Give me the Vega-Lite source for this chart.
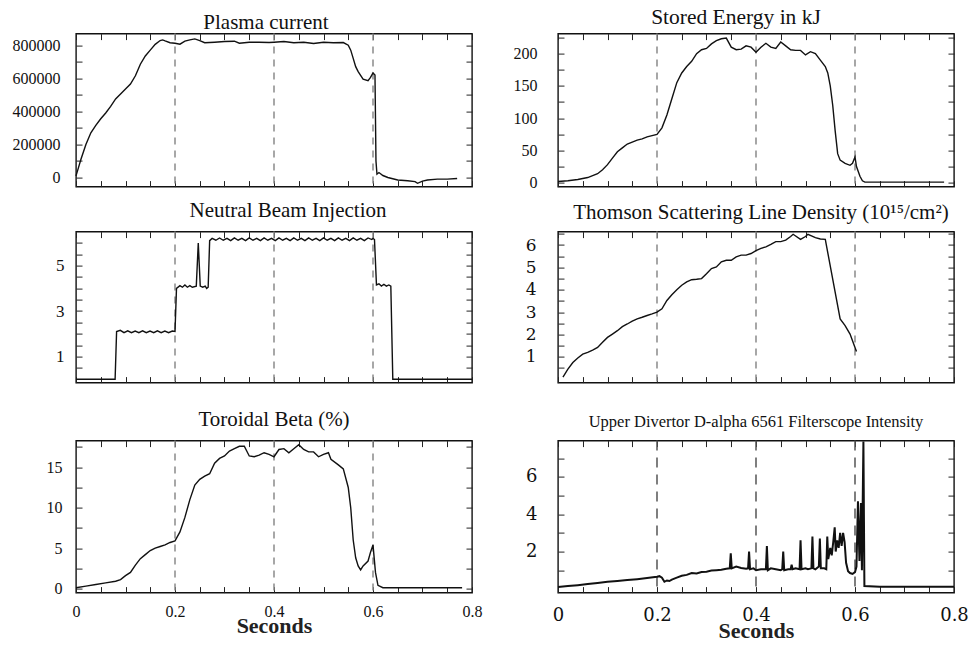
{
"$schema":"https://vega.github.io/schema/vega-lite/v6.json",
"background":"white",
"padding":{"left":11,"top":5.6,"right":10,"bottom":0},
"datasets":{
"dl":[{"t":0.2},{"t":0.4},{"t":0.6}],
"pc":[{"t":0,"v":10000},{"t":0.005,"v":60000},{"t":0.01,"v":110000},{"t":0.02,"v":200000},{"t":0.03,"v":270000},{"t":0.04,"v":315000},{"t":0.05,"v":355000},{"t":0.06,"v":390000},{"t":0.07,"v":430000},{"t":0.08,"v":475000},{"t":0.09,"v":505000},{"t":0.1,"v":535000},{"t":0.11,"v":565000},{"t":0.12,"v":615000},{"t":0.13,"v":685000},{"t":0.14,"v":735000},{"t":0.15,"v":770000},{"t":0.16,"v":805000},{"t":0.17,"v":828000},{"t":0.175,"v":832000},{"t":0.18,"v":826000},{"t":0.19,"v":815000},{"t":0.2,"v":812000},{"t":0.21,"v":806000},{"t":0.22,"v":825000},{"t":0.23,"v":832000},{"t":0.24,"v":838000},{"t":0.25,"v":828000},{"t":0.26,"v":815000},{"t":0.28,"v":818000},{"t":0.3,"v":822000},{"t":0.32,"v":824000},{"t":0.33,"v":812000},{"t":0.35,"v":818000},{"t":0.37,"v":818000},{"t":0.39,"v":816000},{"t":0.4,"v":818000},{"t":0.42,"v":822000},{"t":0.44,"v":815000},{"t":0.46,"v":818000},{"t":0.48,"v":810000},{"t":0.5,"v":818000},{"t":0.52,"v":815000},{"t":0.54,"v":816000},{"t":0.55,"v":800000},{"t":0.555,"v":770000},{"t":0.56,"v":720000},{"t":0.565,"v":670000},{"t":0.57,"v":640000},{"t":0.58,"v":595000},{"t":0.59,"v":585000},{"t":0.595,"v":605000},{"t":0.6,"v":632000},{"t":0.604,"v":620000},{"t":0.606,"v":100000},{"t":0.608,"v":20000},{"t":0.612,"v":30000},{"t":0.62,"v":12000},{"t":0.63,"v":0},{"t":0.65,"v":-15000},{"t":0.67,"v":-20000},{"t":0.685,"v":-25000},{"t":0.69,"v":-35000},{"t":0.7,"v":-22000},{"t":0.71,"v":-15000},{"t":0.73,"v":-10000},{"t":0.75,"v":-10000},{"t":0.77,"v":-6000}],
"se":[{"t":0,"v":2},{"t":0.02,"v":3},{"t":0.04,"v":5},{"t":0.06,"v":8},{"t":0.08,"v":14},{"t":0.09,"v":20},{"t":0.1,"v":28},{"t":0.11,"v":38},{"t":0.12,"v":48},{"t":0.13,"v":54},{"t":0.14,"v":60},{"t":0.15,"v":63},{"t":0.16,"v":66},{"t":0.17,"v":68},{"t":0.18,"v":71},{"t":0.19,"v":73},{"t":0.2,"v":75},{"t":0.21,"v":85},{"t":0.22,"v":105},{"t":0.23,"v":130},{"t":0.24,"v":155},{"t":0.25,"v":170},{"t":0.26,"v":180},{"t":0.27,"v":188},{"t":0.28,"v":200},{"t":0.29,"v":206},{"t":0.3,"v":208},{"t":0.31,"v":215},{"t":0.32,"v":220},{"t":0.33,"v":223},{"t":0.34,"v":224},{"t":0.35,"v":210},{"t":0.36,"v":206},{"t":0.37,"v":207},{"t":0.38,"v":212},{"t":0.39,"v":210},{"t":0.4,"v":202},{"t":0.41,"v":210},{"t":0.42,"v":216},{"t":0.43,"v":210},{"t":0.44,"v":208},{"t":0.45,"v":218},{"t":0.46,"v":212},{"t":0.47,"v":206},{"t":0.48,"v":205},{"t":0.49,"v":205},{"t":0.5,"v":198},{"t":0.51,"v":203},{"t":0.52,"v":200},{"t":0.53,"v":190},{"t":0.54,"v":180},{"t":0.545,"v":170},{"t":0.55,"v":150},{"t":0.555,"v":120},{"t":0.56,"v":80},{"t":0.565,"v":45},{"t":0.57,"v":35},{"t":0.58,"v":30},{"t":0.59,"v":27},{"t":0.595,"v":30},{"t":0.6,"v":40},{"t":0.603,"v":25},{"t":0.61,"v":10},{"t":0.615,"v":3},{"t":0.62,"v":1},{"t":0.78,"v":1}],
"nbi":[{"t":0,"v":0},{"t":0.079,"v":0},{"t":0.082,"v":2.1},{"t":0.0895,"v":2.15},{"t":0.097,"v":2.05},{"t":0.1045,"v":2.13},{"t":0.112,"v":2.05},{"t":0.1195,"v":2.12},{"t":0.127,"v":2.05},{"t":0.1345,"v":2.13},{"t":0.142,"v":2.05},{"t":0.1495,"v":2.12},{"t":0.157,"v":2.05},{"t":0.1645,"v":2.13},{"t":0.172,"v":2.05},{"t":0.1795,"v":2.12},{"t":0.187,"v":2.05},{"t":0.1945,"v":2.12},{"t":0.2,"v":2.1},{"t":0.203,"v":4.0},{"t":0.21,"v":4.12},{"t":0.215,"v":4.05},{"t":0.22,"v":4.15},{"t":0.225,"v":4.05},{"t":0.23,"v":4.12},{"t":0.235,"v":4.05},{"t":0.243,"v":4.1},{"t":0.247,"v":6.0},{"t":0.251,"v":4.1},{"t":0.256,"v":4.05},{"t":0.261,"v":4.1},{"t":0.264,"v":4.0},{"t":0.267,"v":4.05},{"t":0.27,"v":6.1},{"t":0.275,"v":6.2},{"t":0.2825,"v":6.12},{"t":0.29,"v":6.22},{"t":0.2975,"v":6.12},{"t":0.305,"v":6.2},{"t":0.3125,"v":6.1},{"t":0.32,"v":6.22},{"t":0.3275,"v":6.12},{"t":0.335,"v":6.2},{"t":0.3425,"v":6.1},{"t":0.35,"v":6.22},{"t":0.3575,"v":6.12},{"t":0.365,"v":6.2},{"t":0.3725,"v":6.1},{"t":0.38,"v":6.22},{"t":0.3875,"v":6.12},{"t":0.395,"v":6.2},{"t":0.4025,"v":6.1},{"t":0.41,"v":6.22},{"t":0.4175,"v":6.12},{"t":0.425,"v":6.2},{"t":0.4325,"v":6.1},{"t":0.44,"v":6.22},{"t":0.4475,"v":6.12},{"t":0.455,"v":6.2},{"t":0.4625,"v":6.1},{"t":0.47,"v":6.22},{"t":0.4775,"v":6.12},{"t":0.485,"v":6.2},{"t":0.4925,"v":6.1},{"t":0.5,"v":6.22},{"t":0.5075,"v":6.12},{"t":0.515,"v":6.2},{"t":0.5225,"v":6.1},{"t":0.53,"v":6.22},{"t":0.5375,"v":6.12},{"t":0.545,"v":6.2},{"t":0.5525,"v":6.1},{"t":0.56,"v":6.22},{"t":0.5675,"v":6.12},{"t":0.575,"v":6.2},{"t":0.5825,"v":6.1},{"t":0.59,"v":6.22},{"t":0.5975,"v":6.15},{"t":0.6,"v":6.2},{"t":0.603,"v":6.15},{"t":0.607,"v":4.15},{"t":0.612,"v":4.2},{"t":0.617,"v":4.1},{"t":0.622,"v":4.18},{"t":0.627,"v":4.1},{"t":0.632,"v":4.15},{"t":0.636,"v":4.1},{"t":0.64,"v":0},{"t":0.8,"v":0}],
"ts":[{"t":0.01,"v":0.1},{"t":0.02,"v":0.45},{"t":0.03,"v":0.75},{"t":0.04,"v":0.95},{"t":0.05,"v":1.12},{"t":0.06,"v":1.2},{"t":0.07,"v":1.3},{"t":0.08,"v":1.42},{"t":0.09,"v":1.65},{"t":0.1,"v":1.87},{"t":0.11,"v":2.02},{"t":0.12,"v":2.17},{"t":0.13,"v":2.35},{"t":0.14,"v":2.47},{"t":0.15,"v":2.6},{"t":0.16,"v":2.7},{"t":0.17,"v":2.77},{"t":0.18,"v":2.85},{"t":0.19,"v":2.92},{"t":0.2,"v":3.0},{"t":0.21,"v":3.15},{"t":0.22,"v":3.52},{"t":0.23,"v":3.78},{"t":0.24,"v":4.0},{"t":0.25,"v":4.2},{"t":0.26,"v":4.35},{"t":0.27,"v":4.45},{"t":0.28,"v":4.47},{"t":0.29,"v":4.5},{"t":0.3,"v":4.72},{"t":0.31,"v":4.95},{"t":0.32,"v":5.02},{"t":0.33,"v":5.25},{"t":0.34,"v":5.32},{"t":0.35,"v":5.32},{"t":0.36,"v":5.47},{"t":0.37,"v":5.55},{"t":0.38,"v":5.55},{"t":0.39,"v":5.62},{"t":0.4,"v":5.75},{"t":0.41,"v":5.85},{"t":0.42,"v":5.92},{"t":0.43,"v":6.03},{"t":0.44,"v":6.15},{"t":0.45,"v":6.15},{"t":0.46,"v":6.22},{"t":0.47,"v":6.38},{"t":0.475,"v":6.48},{"t":0.49,"v":6.25},{"t":0.5,"v":6.38},{"t":0.505,"v":6.48},{"t":0.52,"v":6.33},{"t":0.53,"v":6.27},{"t":0.54,"v":6.25},{"t":0.57,"v":2.7},{"t":0.58,"v":2.4},{"t":0.59,"v":2.02},{"t":0.6,"v":1.42},{"t":0.603,"v":1.24}],
"tb":[{"t":0,"v":0.1},{"t":0.02,"v":0.3},{"t":0.04,"v":0.5},{"t":0.06,"v":0.7},{"t":0.08,"v":0.9},{"t":0.09,"v":1.1},{"t":0.1,"v":1.6},{"t":0.11,"v":2.0},{"t":0.12,"v":2.9},{"t":0.13,"v":3.7},{"t":0.14,"v":4.2},{"t":0.15,"v":4.7},{"t":0.16,"v":5.0},{"t":0.17,"v":5.2},{"t":0.18,"v":5.4},{"t":0.19,"v":5.7},{"t":0.2,"v":5.9},{"t":0.21,"v":7.0},{"t":0.22,"v":8.8},{"t":0.23,"v":11.0},{"t":0.24,"v":12.8},{"t":0.25,"v":13.5},{"t":0.26,"v":13.9},{"t":0.27,"v":14.2},{"t":0.28,"v":15.5},{"t":0.29,"v":16.1},{"t":0.3,"v":16.4},{"t":0.31,"v":17.0},{"t":0.32,"v":17.3},{"t":0.33,"v":17.6},{"t":0.34,"v":17.6},{"t":0.35,"v":16.4},{"t":0.36,"v":16.3},{"t":0.37,"v":16.5},{"t":0.38,"v":16.8},{"t":0.39,"v":16.6},{"t":0.4,"v":16.3},{"t":0.41,"v":17.2},{"t":0.42,"v":17.3},{"t":0.43,"v":16.8},{"t":0.44,"v":17.3},{"t":0.45,"v":17.8},{"t":0.46,"v":17.2},{"t":0.47,"v":16.9},{"t":0.48,"v":16.9},{"t":0.49,"v":16.3},{"t":0.5,"v":16.6},{"t":0.51,"v":16.8},{"t":0.515,"v":16.0},{"t":0.53,"v":15.3},{"t":0.54,"v":14.8},{"t":0.55,"v":12.5},{"t":0.555,"v":10.0},{"t":0.56,"v":6.0},{"t":0.565,"v":3.8},{"t":0.57,"v":2.8},{"t":0.575,"v":2.3},{"t":0.58,"v":2.8},{"t":0.59,"v":3.4},{"t":0.595,"v":4.5},{"t":0.6,"v":5.4},{"t":0.605,"v":2.0},{"t":0.61,"v":0.4},{"t":0.62,"v":0.1},{"t":0.78,"v":0.1}],
"da":[{"t":0,"v":0.1},{"t":0.02,"v":0.15},{"t":0.04,"v":0.2},{"t":0.06,"v":0.26},{"t":0.08,"v":0.32},{"t":0.1,"v":0.38},{"t":0.12,"v":0.42},{"t":0.14,"v":0.47},{"t":0.16,"v":0.52},{"t":0.18,"v":0.58},{"t":0.2,"v":0.65},{"t":0.205,"v":0.68},{"t":0.21,"v":0.6},{"t":0.215,"v":0.38},{"t":0.22,"v":0.45},{"t":0.225,"v":0.42},{"t":0.23,"v":0.5},{"t":0.24,"v":0.6},{"t":0.25,"v":0.7},{"t":0.26,"v":0.75},{"t":0.27,"v":0.85},{"t":0.28,"v":0.82},{"t":0.29,"v":0.9},{"t":0.3,"v":0.92},{"t":0.31,"v":0.98},{"t":0.32,"v":1.0},{"t":0.33,"v":1.02},{"t":0.34,"v":1.08},{"t":0.347,"v":1.1},{"t":0.349,"v":1.9},{"t":0.351,"v":1.1},{"t":0.36,"v":1.2},{"t":0.37,"v":1.12},{"t":0.38,"v":1.08},{"t":0.384,"v":1.1},{"t":0.386,"v":2.0},{"t":0.388,"v":1.05},{"t":0.395,"v":1.1},{"t":0.4,"v":1.0},{"t":0.41,"v":1.05},{"t":0.42,"v":1.05},{"t":0.422,"v":2.3},{"t":0.424,"v":1.0},{"t":0.43,"v":1.1},{"t":0.44,"v":1.05},{"t":0.45,"v":1.0},{"t":0.453,"v":1.05},{"t":0.455,"v":2.0},{"t":0.457,"v":1.0},{"t":0.465,"v":1.05},{"t":0.47,"v":1.05},{"t":0.472,"v":1.3},{"t":0.474,"v":1.05},{"t":0.48,"v":1.1},{"t":0.488,"v":1.05},{"t":0.49,"v":2.6},{"t":0.492,"v":1.05},{"t":0.5,"v":1.1},{"t":0.505,"v":1.05},{"t":0.512,"v":1.1},{"t":0.514,"v":2.8},{"t":0.516,"v":1.1},{"t":0.52,"v":1.05},{"t":0.527,"v":1.2},{"t":0.529,"v":2.7},{"t":0.531,"v":1.1},{"t":0.538,"v":1.1},{"t":0.542,"v":1.05},{"t":0.544,"v":2.8},{"t":0.546,"v":1.6},{"t":0.55,"v":2.2},{"t":0.553,"v":1.8},{"t":0.556,"v":2.5},{"t":0.559,"v":3.3},{"t":0.561,"v":2.0},{"t":0.564,"v":2.6},{"t":0.567,"v":2.2},{"t":0.57,"v":3.0},{"t":0.573,"v":2.3},{"t":0.576,"v":3.0},{"t":0.579,"v":2.5},{"t":0.582,"v":1.4},{"t":0.586,"v":0.95},{"t":0.59,"v":0.85},{"t":0.595,"v":0.8},{"t":0.6,"v":0.9},{"t":0.603,"v":1.2},{"t":0.606,"v":4.7},{"t":0.609,"v":1.5},{"t":0.612,"v":4.6},{"t":0.614,"v":1.0},{"t":0.617,"v":7.9},{"t":0.619,"v":0.15},{"t":0.65,"v":0.12},{"t":0.8,"v":0.12}]
},
"vconcat":[
{"vconcat":[
 {"hconcat":[
  {"width":396,"height":153,"title":{"text":"Plasma current","offset":0,"fontSize":21,"dx":-8},
   "layer":[
    {"data":{"name":"dl"},"mark":{"type":"rule","color":"#8a8a8a","strokeDash":[7,6],"strokeWidth":1.5},"encoding":{"x":{"field":"t","type":"quantitative","scale":{"domain":[0,0.8]},"axis":null}}},
    {"data":{"name":"pc"},"mark":{"type":"line","color":"#111","strokeWidth":1.4},"encoding":{
      "x":{"field":"t","type":"quantitative","scale":{"domain":[0,0.8]},"axis":{"orient":"bottom","labels":false,"title":null,"values":[0,0.05,0.1,0.15,0.2,0.25,0.3,0.35,0.4,0.45,0.5,0.55,0.6,0.65,0.7,0.75,0.8]}},
      "y":{"field":"v","type":"quantitative","scale":{"domain":[-55000,870000],"nice":false,"zero":false},"axis":{"orient":"left","title":null,"format":"d","labelFontSize":16,"labelPadding":22,"values":[0,100000,200000,300000,400000,500000,600000,700000,800000],"labelExpr":"datum.value % 200000 == 0 ? datum.label : ''"}}}},
    {"data":{"name":"pc"},"mark":{"type":"line","strokeOpacity":0},"encoding":{
      "x":{"field":"t","type":"quantitative","axis":{"orient":"top","labels":false,"title":null,"values":[0,0.05,0.1,0.15,0.2,0.25,0.3,0.35,0.4,0.45,0.5,0.55,0.6,0.65,0.7,0.75,0.8]}},
      "y":{"field":"v","type":"quantitative","axis":{"orient":"right","labels":false,"title":null,"values":[0,100000,200000,300000,400000,500000,600000,700000,800000]}}}}
   ],
   "resolve":{"axis":{"x":"independent","y":"independent"}}},
  {"width":396,"height":153,"title":{"text":"Stored Energy in kJ","offset":1,"fontSize":21.5,"dx":-20},
   "layer":[
    {"data":{"name":"dl"},"mark":{"type":"rule","color":"#8a8a8a","strokeDash":[7,6],"strokeWidth":1.5},"encoding":{"x":{"field":"t","type":"quantitative","scale":{"domain":[0,0.8]},"axis":null}}},
    {"data":{"name":"se"},"mark":{"type":"line","color":"#111","strokeWidth":1.4},"encoding":{
      "x":{"field":"t","type":"quantitative","scale":{"domain":[0,0.8]},"axis":{"orient":"bottom","labels":false,"title":null,"values":[0,0.05,0.1,0.15,0.2,0.25,0.3,0.35,0.4,0.45,0.5,0.55,0.6,0.65,0.7,0.75,0.8]}},
      "y":{"field":"v","type":"quantitative","scale":{"domain":[-6,231],"nice":false,"zero":false},"axis":{"orient":"left","title":null,"format":"d","labelFontSize":16,"labelPadding":27,"values":[0,25,50,75,100,125,150,175,200,225],"labelExpr":"datum.value % 50 == 0 ? datum.label : ''"}}}},
    {"data":{"name":"se"},"mark":{"type":"line","strokeOpacity":0},"encoding":{
      "x":{"field":"t","type":"quantitative","axis":{"orient":"top","labels":false,"title":null,"values":[0,0.05,0.1,0.15,0.2,0.25,0.3,0.35,0.4,0.45,0.5,0.55,0.6,0.65,0.7,0.75,0.8]}},
      "y":{"field":"v","type":"quantitative","axis":{"orient":"right","labels":false,"title":null,"values":[0,25,50,75,100,125,150,175,200,225]}}}}
   ],
   "resolve":{"axis":{"x":"independent","y":"independent"}}}
 ],"spacing":86,"bounds":"flush"},
 {"hconcat":[
  {"width":396,"height":151,"title":{"text":"Neutral Beam Injection","offset":10,"fontSize":21,"dx":14},
   "layer":[
    {"data":{"name":"dl"},"mark":{"type":"rule","color":"#8a8a8a","strokeDash":[7,6],"strokeWidth":1.5},"encoding":{"x":{"field":"t","type":"quantitative","scale":{"domain":[0,0.8]},"axis":null}}},
    {"data":{"name":"nbi"},"mark":{"type":"line","color":"#111","strokeWidth":1.4},"encoding":{
      "x":{"field":"t","type":"quantitative","scale":{"domain":[0,0.8]},"axis":{"orient":"bottom","labels":false,"title":null,"values":[0,0.05,0.1,0.15,0.2,0.25,0.3,0.35,0.4,0.45,0.5,0.55,0.6,0.65,0.7,0.75,0.8]}},
      "y":{"field":"v","type":"quantitative","scale":{"domain":[-0.15,6.5],"nice":false,"zero":false},"axis":{"orient":"left","title":null,"format":"~g","labelFontSize":17,"labelPadding":18,"values":[0.5,1,1.5,2,2.5,3,3.5,4,4.5,5,5.5,6],"labelExpr":"datum.value % 2 == 1 ? datum.label : ''"}}}},
    {"data":{"name":"nbi"},"mark":{"type":"line","strokeOpacity":0},"encoding":{
      "x":{"field":"t","type":"quantitative","axis":{"orient":"top","labels":false,"title":null,"values":[0,0.05,0.1,0.15,0.2,0.25,0.3,0.35,0.4,0.45,0.5,0.55,0.6,0.65,0.7,0.75,0.8]}},
      "y":{"field":"v","type":"quantitative","axis":{"orient":"right","labels":false,"title":null,"values":[0.5,1,1.5,2,2.5,3,3.5,4,4.5,5,5.5,6]}}}}
   ],
   "resolve":{"axis":{"x":"independent","y":"independent"}}},
  {"width":396,"height":151,"title":{"text":"Thomson Scattering Line Density (10¹⁵/cm²)","offset":2,"fontSize":21,"dx":5},
   "layer":[
    {"data":{"name":"dl"},"mark":{"type":"rule","color":"#8a8a8a","strokeDash":[7,6],"strokeWidth":1.5},"encoding":{"x":{"field":"t","type":"quantitative","scale":{"domain":[0,0.8]},"axis":null}}},
    {"data":{"name":"ts"},"mark":{"type":"line","color":"#111","strokeWidth":1.4},"encoding":{
      "x":{"field":"t","type":"quantitative","scale":{"domain":[0,0.8]},"axis":{"orient":"bottom","labels":false,"title":null,"values":[0,0.05,0.1,0.15,0.2,0.25,0.3,0.35,0.4,0.45,0.5,0.55,0.6,0.65,0.7,0.75,0.8]}},
      "y":{"field":"v","type":"quantitative","scale":{"domain":[-0.15,6.6],"nice":false,"zero":false},"axis":{"orient":"left","title":null,"format":"~g","labelFont":"DejaVu Serif","labelFontSize":17,"labelPadding":28,"values":[0.5,1,1.5,2,2.5,3,3.5,4,4.5,5,5.5,6,6.5],"labelExpr":"datum.value % 1 == 0 ? datum.label : ''"}}}},
    {"data":{"name":"ts"},"mark":{"type":"line","strokeOpacity":0},"encoding":{
      "x":{"field":"t","type":"quantitative","axis":{"orient":"top","labels":false,"title":null,"values":[0,0.05,0.1,0.15,0.2,0.25,0.3,0.35,0.4,0.45,0.5,0.55,0.6,0.65,0.7,0.75,0.8]}},
      "y":{"field":"v","type":"quantitative","axis":{"orient":"right","labels":false,"title":null,"values":[0.5,1,1.5,2,2.5,3,3.5,4,4.5,5,5.5,6,6.5]}}}}
   ],
   "resolve":{"axis":{"x":"independent","y":"independent"}}}
 ],"spacing":86,"bounds":"flush"}
],"spacing":7},
{"hconcat":[
  {"width":396,"height":152,"title":{"text":"Toroidal Beta (%)","offset":9,"fontSize":21},
   "layer":[
    {"data":{"name":"dl"},"mark":{"type":"rule","color":"#8a8a8a","strokeDash":[7,6],"strokeWidth":1.5},"encoding":{"x":{"field":"t","type":"quantitative","scale":{"domain":[0,0.8]},"axis":null}}},
    {"data":{"name":"tb"},"mark":{"type":"line","color":"#111","strokeWidth":1.4},"encoding":{
      "x":{"field":"t","type":"quantitative","scale":{"domain":[0,0.8]},"axis":{"orient":"bottom","title":"Seconds","format":"~g","labelFontSize":16,"labelPadding":17,"values":[0,0.05,0.1,0.15,0.2,0.25,0.3,0.35,0.4,0.45,0.5,0.55,0.6,0.65,0.7,0.75,0.8],"labelExpr":"abs(datum.value*5 - round(datum.value*5)) < 0.000001 ? datum.label : ''"}},
      "y":{"field":"v","type":"quantitative","scale":{"domain":[-0.5,18.3],"nice":false,"zero":false},"axis":{"orient":"left","title":null,"format":"~g","labelFontSize":16,"labelPadding":20,"values":[0,2.5,5,7.5,10,12.5,15,17.5],"labelExpr":"datum.value % 5 == 0 ? datum.label : ''"}}}},
    {"data":{"name":"tb"},"mark":{"type":"line","strokeOpacity":0},"encoding":{
      "x":{"field":"t","type":"quantitative","axis":{"orient":"top","labels":false,"title":null,"values":[0,0.05,0.1,0.15,0.2,0.25,0.3,0.35,0.4,0.45,0.5,0.55,0.6,0.65,0.7,0.75,0.8]}},
      "y":{"field":"v","type":"quantitative","axis":{"orient":"right","labels":false,"title":null,"values":[0,2.5,5,7.5,10,12.5,15,17.5]}}}}
   ],
   "resolve":{"axis":{"x":"independent","y":"independent"}}},
  {"width":396,"height":152,"title":{"text":"Upper Divertor D-alpha 6561 Filterscope Intensity","offset":7,"fontSize":16.5},
   "layer":[
    {"data":{"name":"dl"},"mark":{"type":"rule","color":"#555","strokeDash":[10,7],"strokeWidth":1.5},"encoding":{"x":{"field":"t","type":"quantitative","scale":{"domain":[0,0.8]},"axis":null}}},
    {"data":{"name":"da"},"mark":{"type":"line","color":"#111","strokeWidth":2},"encoding":{
      "x":{"field":"t","type":"quantitative","scale":{"domain":[0,0.8]},"axis":{"orient":"bottom","title":"Seconds","labelFont":"DejaVu Serif","labelFontSize":18,"labelPadding":20,"format":"~g","values":[0,0.05,0.1,0.15,0.2,0.25,0.3,0.35,0.4,0.45,0.5,0.55,0.6,0.65,0.7,0.75,0.8],"labelExpr":"abs(datum.value*5 - round(datum.value*5)) < 0.000001 ? datum.label : ''"}},
      "y":{"field":"v","type":"quantitative","scale":{"domain":[-0.2,7.95],"nice":false,"zero":false},"axis":{"orient":"left","title":null,"format":"~g","labelFont":"DejaVu Serif","labelFontSize":18,"labelPadding":27,"values":[1,2,3,4,5,6,7],"labelExpr":"datum.value % 2 == 0 ? datum.label : ''"}}}},
    {"data":{"name":"da"},"mark":{"type":"line","strokeOpacity":0},"encoding":{
      "x":{"field":"t","type":"quantitative","axis":{"orient":"top","labels":false,"title":null,"values":[0,0.05,0.1,0.15,0.2,0.25,0.3,0.35,0.4,0.45,0.5,0.55,0.6,0.65,0.7,0.75,0.8]}},
      "y":{"field":"v","type":"quantitative","axis":{"orient":"right","labels":false,"title":null,"values":[1,2,3,4,5,6,7]}}}}
   ],
   "resolve":{"axis":{"x":"independent","y":"independent"}}}
 ],"spacing":86,"bounds":"flush"}
],
"spacing":23,
"config":{
 "view":{"stroke":"#111","strokeWidth":1.4},
 "font":"Liberation Serif",
 "axis":{"domain":false,"grid":false,"ticks":true,"tickColor":"#222","tickSize":-6,"tickWidth":1,"labelFont":"Liberation Serif","labelFontSize":15,"labelColor":"#111","labelPadding":10,"labelFlush":false,"labelOverlap":false,"labelBound":false,"titleFont":"Liberation Serif","titleFontSize":22,"titleFontWeight":"bold","titleColor":"#222","titlePadding":-4},
 "title":{"font":"Liberation Serif","fontSize":18,"fontWeight":"normal","color":"#111","frame":"group","baseline":"alphabetic"}
}
}
